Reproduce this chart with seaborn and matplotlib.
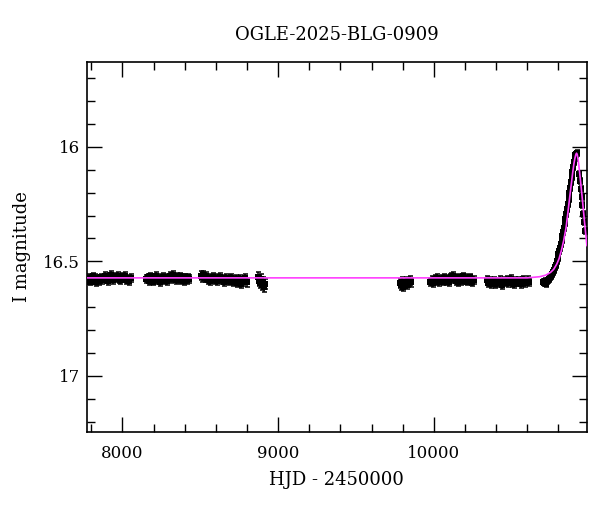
import matplotlib
matplotlib.use('Agg')
import matplotlib.pyplot as plt
import pandas as pd
import seaborn as sns
from matplotlib.ticker import MultipleLocator
#-------------------------------
# sezony OGLE: HJD - 2450000 i jasnosc I
t_2017 = [7776, 7784, 7792, 7800, 7808, 7816, 7824, 7833, 7842, 7851, 7860, 7869, 7878, 7887, 7896, 7905,
          7914, 7923, 7932, 7941, 7950, 7959, 7968, 7977, 7986, 7995, 8004, 8013, 8022, 8032, 8042, 8052]
m_2017 = [16.580, 16.572, 16.588, 16.576, 16.566, 16.582, 16.574, 16.590, 16.578, 16.586, 16.570, 16.580,
          16.575, 16.565, 16.578, 16.584, 16.568, 16.560, 16.574, 16.582, 16.566, 16.572, 16.562, 16.576,
          16.580, 16.568, 16.574, 16.564, 16.582, 16.578, 16.586, 16.574]

t_2018 = [8152, 8161, 8170, 8179, 8188, 8197, 8206, 8215, 8224, 8233, 8242, 8251, 8260, 8269, 8278, 8287,
          8296, 8305, 8314, 8323, 8332, 8341, 8350, 8359, 8368, 8377, 8386, 8395, 8404, 8413, 8422, 8430]
m_2018 = [16.578, 16.570, 16.584, 16.566, 16.576, 16.588, 16.572, 16.562, 16.580, 16.574, 16.590, 16.578,
          16.568, 16.582, 16.574, 16.586, 16.570, 16.564, 16.578, 16.560, 16.574, 16.582, 16.568, 16.576,
          16.566, 16.580, 16.572, 16.584, 16.574, 16.580, 16.570, 16.578]

t_2019 = [8502, 8511, 8520, 8529, 8538, 8547, 8556, 8565, 8574, 8583, 8592, 8601, 8610, 8619, 8628, 8637,
          8646, 8655, 8664, 8673, 8682, 8691, 8700, 8709, 8718, 8727, 8736, 8745, 8754, 8763, 8772, 8781,
          8790, 8800]
m_2019 = [16.562, 16.570, 16.558, 16.574, 16.566, 16.580, 16.572, 16.584, 16.576, 16.568, 16.580, 16.574,
          16.586, 16.578, 16.570, 16.582, 16.576, 16.588, 16.574, 16.580, 16.586, 16.578, 16.572, 16.590,
          16.582, 16.576, 16.594, 16.584, 16.578, 16.600, 16.588, 16.580, 16.574, 16.592]

t_2020 = [8872, 8878, 8884, 8890, 8897, 8904, 8911, 8918]
m_2020 = [16.570, 16.586, 16.596, 16.578, 16.604, 16.590, 16.612, 16.598]

t_2022 = [9780, 9788, 9796, 9804, 9812, 9820, 9828, 9836, 9846, 9856]
m_2022 = [16.596, 16.604, 16.588, 16.610, 16.598, 16.590, 16.602, 16.594, 16.584, 16.592]

t_2023 = [9978, 9987, 9996, 10005, 10014, 10023, 10032, 10041, 10050, 10059, 10068, 10077, 10086, 10095,
          10104, 10113, 10122, 10131, 10140, 10149, 10158, 10167, 10176, 10185, 10194, 10203, 10212, 10221,
          10230, 10239, 10248, 10258]
m_2023 = [16.590, 16.582, 16.596, 16.578, 16.586, 16.574, 16.592, 16.580, 16.576, 16.588, 16.572, 16.584,
          16.578, 16.590, 16.574, 16.568, 16.562, 16.576, 16.584, 16.570, 16.592, 16.578, 16.586, 16.566,
          16.580, 16.574, 16.588, 16.578, 16.570, 16.584, 16.590, 16.580]

t_2024 = [10342, 10351, 10360, 10369, 10378, 10387, 10396, 10405, 10414, 10423, 10432, 10441, 10450, 10459,
          10468, 10477, 10486, 10495, 10504, 10513, 10522, 10531, 10540, 10549, 10558, 10567, 10576, 10585,
          10594, 10603, 10612]
m_2024 = [16.580, 16.594, 16.586, 16.600, 16.590, 16.584, 16.598, 16.588, 16.594, 16.580, 16.590, 16.602,
          16.586, 16.592, 16.582, 16.596, 16.588, 16.578, 16.594, 16.600, 16.586, 16.592, 16.584, 16.590,
          16.598, 16.586, 16.580, 16.594, 16.588, 16.582, 16.590]

t_2025 = [10700, 10706, 10712, 10718, 10724, 10730, 10736, 10742, 10748, 10754, 10760, 10766, 10772, 10778,
          10784, 10790, 10796, 10801, 10806, 10811, 10816, 10821, 10826, 10831, 10836, 10841, 10846, 10851,
          10856, 10861, 10866, 10871, 10876, 10881, 10886, 10891, 10896, 10901, 10906, 10910, 10914, 10918,
          10935, 10940, 10945, 10950, 10955, 10960, 10965, 10970]
m_2025 = [16.588, 16.596, 16.584, 16.600, 16.592, 16.586, 16.580, 16.576, 16.570, 16.562, 16.556, 16.548,
          16.538, 16.526, 16.514, 16.500, 16.486, 16.470, 16.456, 16.440, 16.424, 16.408, 16.390, 16.372,
          16.354, 16.334, 16.314, 16.292, 16.270, 16.248, 16.226, 16.202, 16.178, 16.154, 16.130, 16.108,
          16.088, 16.068, 16.050, 16.038, 16.030, 16.028, 16.120, 16.150, 16.186, 16.220, 16.256, 16.292,
          16.330, 16.366]

# typowy blad fotometrii w sezonie
bledy = [0.017, 0.017, 0.018, 0.022, 0.020, 0.017, 0.017, 0.013]

# model (magenta)
model_t = [7770, 10600, 10680, 10720, 10750, 10770, 10790, 10805, 10820, 10835, 10850, 10862, 10874, 10884,
           10892, 10900, 10906, 10912, 10917, 10922, 10927, 10932, 10938, 10945, 10952, 10960, 10968, 10976,
           10984]
model_m = [16.572, 16.572, 16.567, 16.560, 16.548, 16.535, 16.512, 16.488, 16.452, 16.408, 16.352, 16.285,
           16.215, 16.160, 16.115, 16.075, 16.052, 16.035, 16.028, 16.035, 16.055, 16.082, 16.120, 16.165,
           16.212, 16.268, 16.325, 16.380, 16.432]
#-------------------------------

sezony = [(t_2017, m_2017), (t_2018, m_2018), (t_2019, m_2019), (t_2020, m_2020),
          (t_2022, m_2022), (t_2023, m_2023), (t_2024, m_2024), (t_2025, m_2025)]
wiersze = []
for (t, m), b in zip(sezony, bledy):
    for ti, mi in zip(t, m):
        wiersze.append({'hjd': ti, 'mag': mi, 'err': b})
df = pd.DataFrame(wiersze)
df_model = pd.DataFrame({'hjd': model_t, 'mag': model_m})

sns.set_style('ticks')
plt.rcParams['font.family'] = ['DejaVu Serif']
plt.rcParams['xtick.direction'] = 'in'
plt.rcParams['ytick.direction'] = 'in'
plt.rcParams['text.color'] = 'black'
plt.rcParams['axes.labelcolor'] = 'black'
plt.rcParams['xtick.color'] = 'black'
plt.rcParams['ytick.color'] = 'black'

fig, ax = plt.subplots(figsize=(6, 5.12), dpi=100)
fig.subplots_adjust(left=0.145, right=0.978, top=0.879, bottom=0.156)

ax.errorbar(df['hjd'], df['mag'], yerr=df['err'], fmt='none', ecolor='black',
            elinewidth=1.1, capsize=1.8, capthick=1.1, zorder=2)
sns.scatterplot(data=df, x='hjd', y='mag', color='black', marker='s', s=18,
                edgecolor='black', linewidth=0, ax=ax, zorder=3)
sns.lineplot(data=df_model, x='hjd', y='mag', color='#ff40ff', linewidth=1.2,
             sort=False, estimator=None, ax=ax, zorder=4)

ax.set_xlim(7772, 10983)
ax.set_ylim(17.245, 15.63)
ax.xaxis.set_major_locator(MultipleLocator(1000))
ax.xaxis.set_minor_locator(MultipleLocator(200))
ax.yaxis.set_major_locator(MultipleLocator(0.5))
ax.yaxis.set_minor_locator(MultipleLocator(0.1))
ax.yaxis.set_major_formatter(matplotlib.ticker.FuncFormatter(lambda v, p: '{:g}'.format(v)))
ax.tick_params(which='both', top=True, right=True, color='black', labelcolor='black',
               width=1.0, labelsize=12)
ax.tick_params(which='major', length=11)
ax.tick_params(which='minor', length=6)
ax.tick_params(axis='x', which='major', pad=9)
ax.tick_params(axis='y', which='major', pad=5)
for s in ax.spines.values():
    s.set_linewidth(1.2)
    s.set_color('black')

ax.set_xlabel('HJD - 2450000', fontsize=13, labelpad=7)
ax.set_ylabel('I magnitude', fontsize=13, labelpad=9)
ax.set_title('OGLE-2025-BLG-0909', fontsize=13, pad=16)

plt.savefig('out.png', dpi=100)
